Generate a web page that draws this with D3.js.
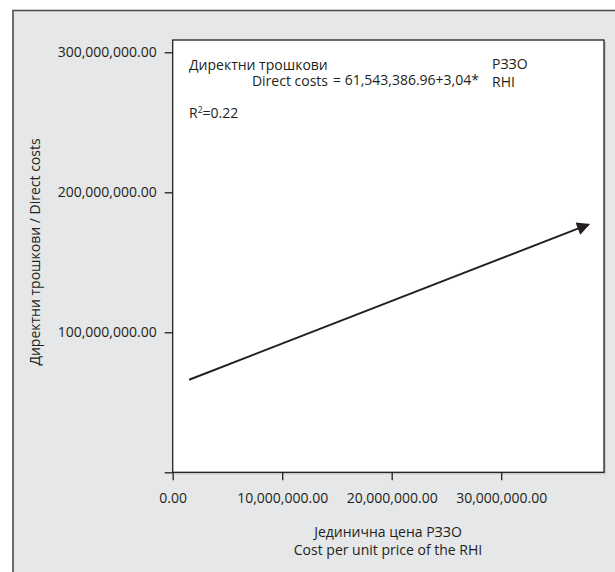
<!DOCTYPE html>
<html><head><meta charset="utf-8">
<script src="https://cdn.jsdelivr.net/npm/d3@7"></script>
<style>body{margin:0;background:#fff}svg{display:block}text{font-family:"Open Sans",sans-serif;fill:#231f20}</style>
</head><body><svg id="c" width="615" height="572"></svg>
<script>
const xTicks = [0, 10000000, 20000000, 30000000];
const yTicks = [0, 100000000, 200000000, 300000000];
const yLabelTicks = [100000000, 200000000, 300000000];
const linePoints = [[1500000, 66100000], [38000000, 177100000]];
const xTitle = ["Јединична цена РЗЗО", "Cost per unit price of the RHI"];
const yTitle = "Директни трошкови / Direct costs";
const eqLeft = ["Директни трошкови", "Direct costs"];
const eqMid = "= 61,543,386.96+3,04*";
const eqRight = ["РЗЗО", "RHI"];
const r2 = "0.22";

const FS = 14;
const svg = d3.select("#c");
const L = 172.7, R = 604, T = 40, B = 472.3;
const x = d3.scaleLinear().domain([0, 10000000]).range([L, L + 109.5]);
const y = d3.scaleLinear().domain([0, 100000000]).range([B, B - 140]);
const fmt = d3.format(",.2f");

// outer frame
svg.append("rect").attr("x", 13).attr("y", 10.5).attr("width", 620).attr("height", 580)
  .attr("fill", "#e6e7e8").attr("stroke", "#4d4d4f").attr("stroke-width", 1.6);
// plot box shadow + box
svg.append("rect").attr("x", L + 2).attr("y", T + 2).attr("width", R - L).attr("height", B - T)
  .attr("fill", "#c7c8ca");
svg.append("rect").attr("x", L).attr("y", T).attr("width", R - L).attr("height", B - T)
  .attr("fill", "#fff").attr("stroke", "#231f20").attr("stroke-width", 1.3);

const gx = svg.append("g").attr("transform", `translate(0,${B})`)
  .call(d3.axisBottom(x).tickValues(xTicks).tickSize(8).tickPadding(13).tickFormat(fmt));
const gy = svg.append("g").attr("transform", `translate(${L},0)`)
  .call(d3.axisLeft(y).tickValues(yTicks).tickSize(8).tickPadding(8)
    .tickFormat(d => yLabelTicks.includes(d) ? fmt(d) : ""));
[gx, gy].forEach(g => {
  g.select(".domain").remove();
  g.selectAll("line").attr("stroke", "#231f20").attr("stroke-width", 1.3);
  g.selectAll("text").attr("font-size", FS).attr("fill", "#231f20")
    .style("font-family", "'Open Sans', sans-serif");
});

// axis titles
svg.append("text").attr("x", 388).attr("y", 537).attr("text-anchor", "middle").attr("font-size", FS).text(xTitle[0]);
svg.append("text").attr("x", 388).attr("y", 555).attr("text-anchor", "middle").attr("font-size", FS).text(xTitle[1]);
svg.append("text").attr("transform", "translate(40,252) rotate(-90)").attr("text-anchor", "middle")
  .attr("font-size", FS).text(yTitle);

// regression arrow
svg.append("defs").append("marker").attr("id", "ah").attr("viewBox", "0 0 10 10")
  .attr("refX", 9).attr("refY", 5).attr("markerWidth", 8).attr("markerHeight", 6.5)
  .attr("orient", "auto").attr("markerUnits", "strokeWidth")
  .append("path").attr("d", "M0,0 L10,5 L0,10 Z").attr("fill", "#231f20");
svg.append("path").datum(linePoints)
  .attr("d", d3.line().x(d => x(d[0])).y(d => y(d[1])))
  .attr("stroke", "#231f20").attr("stroke-width", 2).attr("fill", "none")
  .attr("marker-end", "url(#ah)");

// equation annotation
svg.append("text").attr("x", 189).attr("y", 70).attr("font-size", FS).text(eqLeft[0]);
svg.append("text").attr("x", 328).attr("y", 86).attr("text-anchor", "end").attr("font-size", FS).text(eqLeft[1]);
svg.append("text").attr("x", 333).attr("y", 85).attr("font-size", FS).text(eqMid);
svg.append("text").attr("x", 492).attr("y", 69).attr("font-size", FS).text(eqRight[0]);
svg.append("text").attr("x", 492).attr("y", 87).attr("font-size", FS).text(eqRight[1]);
const rt = svg.append("text").attr("x", 189).attr("y", 118).attr("font-size", FS);
rt.append("tspan").text("R");
rt.append("tspan").attr("font-size", 8.5).attr("dy", -5).text("2");
rt.append("tspan").attr("dy", 5).text("=" + r2);
</script></body></html>
